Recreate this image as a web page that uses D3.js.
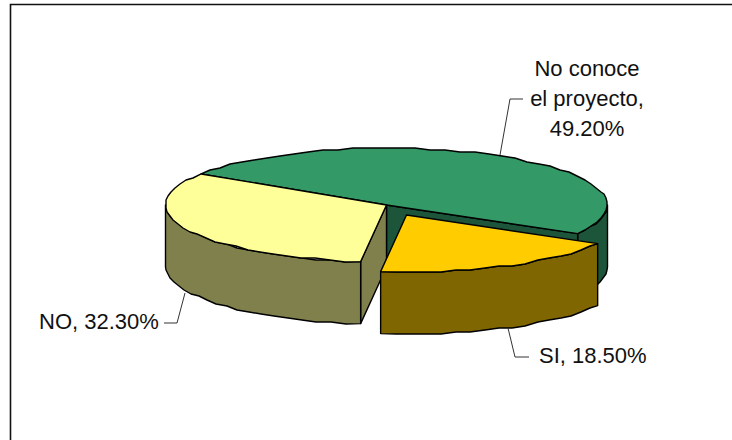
<!DOCTYPE html>
<html>
<head>
<meta charset="utf-8">
<script src="https://cdn.jsdelivr.net/npm/d3@7"></script>
<style>
  html, body { margin: 0; padding: 0; background: #fff; }
  svg { display: block; }
  text { font-family: "Liberation Sans", Arial, sans-serif; font-size: 22px; fill: #111; }
</style>
</head>
<body>
<div id="chart"></div>
<script>
var categories = ['No conoce el proyecto', 'SI', 'NO'];
var values = [49.2, 18.5, 32.3];
var labelLines = [['No conoce', 'el proyecto,', '49.20%'], ['SI, 18.50%'], ['NO, 32.30%']];
var topColors = ['#339966', '#ffcc00', '#ffff99'];
var sideColors = ['#1c5539', '#806600', '#80804d'];

var width = 732;
var height = 440;
var cx = 386.5, cy = 205, rx = 221, ry = 57, depth = 62;

var svg = d3.select('#chart').append('svg')
    .attr('width', width)
    .attr('height', height);

// frame: only the top and left edges fall inside the picture
svg.append('path')
    .attr('d', 'M10.5,440V4.5H732')
    .attr('fill', 'none')
    .attr('stroke', '#111')
    .attr('stroke-width', 1.6);

var pie = d3.pie().sort(null)
    .startAngle(-57 * Math.PI / 180)
    .endAngle(303 * Math.PI / 180);
var arcs = pie(values);

// gold slice is pulled out of the pie
var offsets = [[0, 0], [20, 10], [0, 0]];

function pt(a, o, dy) {
  return [cx + o[0] + rx * Math.sin(a), cy + o[1] + (dy || 0) - ry * Math.cos(a)];
}

// the original rim is a coarse polygon, so sample it coarsely and snap it
function rim(a0, a1, o, dy) {
  var n = Math.max(2, Math.round(Math.abs(a1 - a0) / (4 * Math.PI / 180)));
  return d3.range(n + 1).map(function (i) {
    var p = pt(a0 + (a1 - a0) * i / n, o, dy);
    return i == 0 || i == n ? p : [Math.round(p[0]), Math.round(p[1] / 2) * 2];
  });
}

function draw(points, fill) {
  svg.append('path')
    .attr('d', d3.line()(points) + 'Z')
    .attr('fill', fill)
    .attr('stroke', '#000')
    .attr('stroke-width', 1.4)
    .attr('stroke-linejoin', 'round');
}

// walls, back to front
var green = arcs[0], gold = arcs[1], yellow = arcs[2];
var o0 = offsets[0], o1 = offsets[1], o2 = offsets[2];
var center = [cx, cy], centerLow = [cx, cy + depth];

// green: outer wall on the right, then the cut face
draw(rim(Math.PI / 2, green.endAngle, o0).concat(rim(green.endAngle, Math.PI / 2, o0, depth)), sideColors[0]);
draw([center, pt(green.endAngle, o0), pt(green.endAngle, o0, depth), centerLow], sideColors[0]);

// yellow: cut face then front wall
draw([center, pt(yellow.startAngle, o2), pt(yellow.startAngle, o2, depth), centerLow], sideColors[2]);
draw(rim(yellow.startAngle, 3 * Math.PI / 2, o2).concat(rim(3 * Math.PI / 2, yellow.startAngle, o2, depth)), sideColors[2]);

// tops of green and yellow
draw([center].concat(rim(green.startAngle, green.endAngle, o0)), topColors[0]);
draw([center].concat(rim(yellow.startAngle, yellow.endAngle, o2)), topColors[2]);

// gold slice
draw(rim(gold.startAngle, gold.endAngle, o1).concat(rim(gold.endAngle, gold.startAngle, o1, depth)), sideColors[1]);
draw([[cx + o1[0], cy + o1[1]]].concat(rim(gold.startAngle, gold.endAngle, o1)), topColors[1]);

// leader lines
var leaders = [
  [[500, 155], [510, 99], [523, 99]],
  [[508, 328], [515, 357], [529, 357]],
  [[185, 293], [177, 323], [164, 323]]
];
leaders.forEach(function (l) {
  svg.append('path')
    .attr('d', d3.line()(l))
    .attr('fill', 'none')
    .attr('stroke', '#333')
    .attr('stroke-width', 1);
});

// labels
var labelPos = [[587, 76, 'middle'], [539, 363, 'start'], [39, 329, 'start']];
labelLines.forEach(function (lines, i) {
  lines.forEach(function (line, j) {
    svg.append('text')
      .attr('x', labelPos[i][0])
      .attr('y', labelPos[i][1] + j * 30)
      .attr('text-anchor', labelPos[i][2])
      .text(line);
  });
});
</script>
</body>
</html>
